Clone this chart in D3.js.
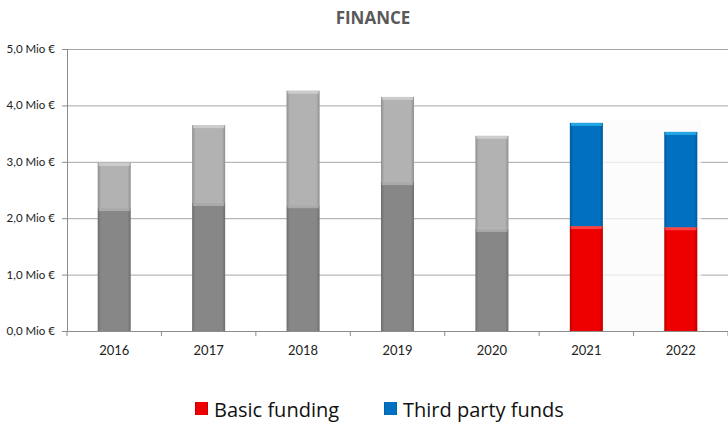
<!DOCTYPE html>
<html><head><meta charset="utf-8">
<script src="https://cdn.jsdelivr.net/npm/d3@7"></script>
<style>body{margin:0;background:#fff}svg{display:block}</style>
</head><body><svg id="c" width="728" height="423"></svg>
<script>
const years = ["2016","2017","2018","2019","2020","2021","2022"];
const lowerValues = [2.18, 2.27, 2.23, 2.64, 1.81, 1.86, 1.84];
const upperValues = [0.80, 1.38, 2.03, 1.51, 1.65, 1.83, 1.69];
const yTicks = [0,1,2,3,4,5];
const yTickLabels = ["0,0 Mio €","1,0 Mio €","2,0 Mio €","3,0 Mio €","4,0 Mio €","5,0 Mio €"];
const legendLabels = ["Basic funding","Third party funds"];
const highlightYears = ["2021","2022"];

const svg = d3.select("#c");
const font = "Lato, 'Open Sans', sans-serif";
const m = {l:67, r:728, t:49, b:331};
const x = d3.scaleBand().domain(years).range([m.l, m.r]);
const y = d3.scaleLinear().domain([0,5]).range([m.b, m.t]);
const barW = x.step()*0.35;

const defs = svg.append("defs");
function grad(id, edge, mid){
  const g = defs.append("linearGradient").attr("id",id).attr("x1",0).attr("x2",1).attr("y1",0).attr("y2",0);
  g.append("stop").attr("offset",0).attr("stop-color",edge);
  g.append("stop").attr("offset",0.1).attr("stop-color",mid);
  g.append("stop").attr("offset",0.9).attr("stop-color",mid);
  g.append("stop").attr("offset",1).attr("stop-color",edge);
}
grad("gDark","#6e6e6e","#878787");
grad("gLight","#8f8f8f","#b2b2b2");
grad("gRed","#b80000","#ee0000");
grad("gBlue","#005a9e","#0070c0");

// title
svg.append("text").attr("x",373).attr("y",24).attr("text-anchor","middle")
  .attr("font-family","'Open Sans', sans-serif").attr("font-weight","bold").attr("font-size",17)
  .attr("fill","#595959").text("FINANCE");

// gridlines
svg.append("g").selectAll("line").data(yTicks.slice(1)).join("line")
  .attr("x1",m.l).attr("x2",m.r).attr("y1",d=>y(d)+0.5).attr("y2",d=>y(d)+0.5)
  .attr("stroke","#a6a6a6").attr("stroke-width",1);

// faint overlay behind highlighted years
const hx0 = x(highlightYears[0]) + x.step()/2 + barW/2;
const hx1 = x(highlightYears[1]) + x.step()/2 + barW/2 + 4;
svg.append("rect").attr("x",hx0).attr("width",hx1-hx0).attr("y",y(3.75)).attr("height",m.b-y(3.75))
  .attr("fill","#fbfbfb").attr("opacity",0.75);

// y axis
const ya = svg.append("g");
ya.append("line").attr("x1",m.l+0.5).attr("x2",m.l+0.5).attr("y1",m.t).attr("y2",m.b).attr("stroke","#8c8c8c");
ya.selectAll("line.t").data(yTicks).join("line").attr("class","t")
  .attr("x1",m.l-5).attr("x2",m.l).attr("y1",d=>y(d)+0.5).attr("y2",d=>y(d)+0.5).attr("stroke","#8c8c8c");
ya.selectAll("text").data(yTicks).join("text")
  .attr("x",m.l-12).attr("y",d=>y(d)+4).attr("text-anchor","end")
  .attr("font-family",font).attr("font-size",11.5).attr("fill","#222")
  .text((d,i)=>yTickLabels[i]);

// bars
const colors = d => {
  const hl = highlightYears.includes(d);
  return hl ? ["url(#gRed)","url(#gBlue)","#ff5a5a","#30b8f0"] : ["url(#gDark)","url(#gLight)","#b5b5b5","#d4d4d4"];
};
const bars = svg.append("g");
years.forEach((yr,i)=>{
  const cx = x(yr)+x.step()/2;
  const c = colors(yr);
  const segs = [[0,lowerValues[i],c[0],c[2]],[lowerValues[i],lowerValues[i]+upperValues[i],c[1],c[3]]];
  segs.forEach(([a,b,f,hl])=>{
    bars.append("rect").attr("x",cx-barW/2).attr("width",barW).attr("y",y(b)).attr("height",y(a)-y(b)).attr("fill",f);
    bars.append("rect").attr("x",cx-barW/2+1).attr("width",barW-2).attr("y",y(b)).attr("height",3).attr("fill",hl).attr("opacity",0.75);
  });
});

// x axis
const xa = svg.append("g");
xa.append("line").attr("x1",m.l).attr("x2",m.r).attr("y1",m.b+0.5).attr("y2",m.b+0.5).attr("stroke","#8c8c8c");
xa.selectAll("line.t").data(years.concat(["end"])).join("line").attr("class","t")
  .attr("x1",(d,i)=>m.l+i*x.step()).attr("x2",(d,i)=>m.l+i*x.step())
  .attr("y1",m.b).attr("y2",m.b+5).attr("stroke","#8c8c8c");
xa.selectAll("text").data(years).join("text")
  .attr("x",d=>x(d)+x.step()/2).attr("y",m.b+24).attr("text-anchor","middle")
  .attr("font-family",font).attr("font-size",13).attr("fill","#222").text(d=>d);

// legend
const lg = svg.append("g");
const lgItems = [{label:legendLabels[0], fill:"url(#gRed)", x:195},{label:legendLabels[1], fill:"url(#gBlue)", x:384}];
lgItems.forEach(it=>{
  lg.append("rect").attr("x",it.x).attr("y",402).attr("width",13).attr("height",13).attr("fill",it.fill);
  lg.append("text").attr("x",it.x+19).attr("y",417).attr("font-family","'Open Sans', sans-serif").attr("font-size",20)
    .attr("fill","#111").text(it.label);
});
</script></body></html>
